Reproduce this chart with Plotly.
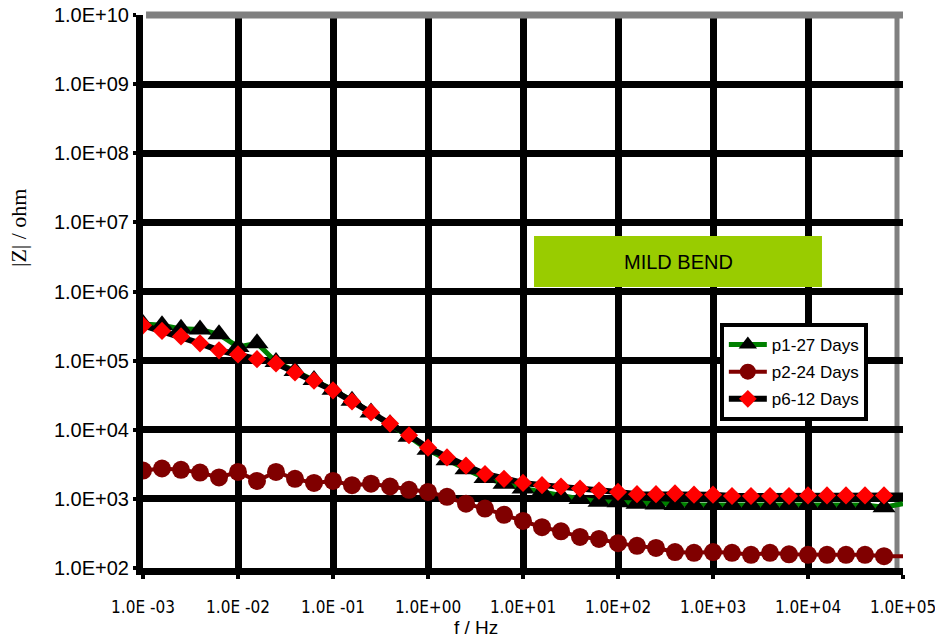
import plotly.graph_objects as go

# Frequency sweep (Hz), 5 points per decade from 1 mHz up to 100 kHz
freq_hz = [
    0.001, 0.001585, 0.002512, 0.003981, 0.00631,
    0.01, 0.01585, 0.02512, 0.03981, 0.0631,
    0.1, 0.1585, 0.2512, 0.3981, 0.631,
    1.0, 1.585, 2.512, 3.981, 6.31,
    10.0, 15.85, 25.12, 39.81, 63.1,
    100.0, 158.5, 251.2, 398.1, 631.0,
    1000.0, 1585.0, 2512.0, 3981.0, 6310.0,
    10000.0, 15850.0, 25120.0, 39810.0, 63100.0,
    100000.0,
]

# Impedance modulus |Z| (ohm) for each panel
z_p1 = [
    339000, 324000, 288000, 282000, 240000,
    158000, 178000, 95500, 70800, 52500,
    38000, 26300, 17800, 12000, 7940,
    5130, 3630, 2690, 2000, 1660,
    1410, 1260, 1100, 1000, 912,
    891, 851, 832, 813, 813,
    813, 813, 813, 813, 813,
    813, 813, 813, 813, 759,
    851,
]
z_p2 = [
    2570, 2750, 2630, 2400, 2040,
    2450, 1820, 2450, 1950, 1700,
    1820, 1580, 1660, 1510, 1350,
    1260, 1070, 851, 724, 589,
    479, 389, 339, 282, 263,
    229, 209, 195, 170, 166,
    170, 166, 155, 166, 158,
    155, 155, 155, 155, 148,
    148,
]
z_p6 = [
    324000, 269000, 224000, 178000, 141000,
    123000, 105000, 91200, 67600, 51300,
    37200, 25700, 17800, 12300, 8320,
    5500, 3980, 3020, 2290, 1950,
    1700, 1580, 1510, 1410, 1320,
    1260, 1170, 1170, 1200, 1150,
    1150, 1100, 1100, 1100, 1100,
    1120, 1120, 1120, 1120, 1120,
    1120,
]

series_names = ["p1-27 Days", "p2-24 Days", "p6-12 Days"]

x_tick_vals = [1e-3, 1e-2, 1e-1, 1e0, 1e1, 1e2, 1e3, 1e4, 1e5]
x_tick_text = ["1.0E -03", "1.0E -02", "1.0E -01", "1.0E+00", "1.0E+01",
               "1.0E+02", "1.0E+03", "1.0E+04", "1.0E+05"]
y_tick_vals = [1e2, 1e3, 1e4, 1e5, 1e6, 1e7, 1e8, 1e9, 1e10]
y_tick_text = ["1.0E+02", "1.0E+03", "1.0E+04", "1.0E+05", "1.0E+06",
               "1.0E+07", "1.0E+08", "1.0E+09", "1.0E+10"]

SANS = "Arial, Liberation Sans, sans-serif"
NARROW = "Liberation Sans Narrow, Arial Narrow, DejaVu Sans Condensed, sans-serif"
SERIF = "Times New Roman, Liberation Serif, serif"


def marker_sizes(size, count):
    # the last sample carries the line to the edge without a marker
    return [size] * (count - 1) + [0]


n = len(freq_hz)

fig = go.Figure()
fig.add_trace(go.Scatter(
    x=freq_hz, y=z_p1, name=series_names[0], mode="lines+markers",
    legendgroup="a",
    line=dict(color="#008000", width=5),
    marker=dict(symbol="triangle-up", color="black", size=marker_sizes(20, n),
                opacity=1, line=dict(width=0)),
))
fig.add_trace(go.Scatter(
    x=freq_hz, y=z_p2, name=series_names[1], mode="lines+markers",
    legendgroup="b",
    line=dict(color="#800000", width=4),
    marker=dict(symbol="circle", color="#800000", size=marker_sizes(18, n),
                opacity=1, line=dict(width=0)),
))
fig.add_trace(go.Scatter(
    x=freq_hz, y=z_p6, name=series_names[2], mode="lines+markers",
    legendgroup="c",
    line=dict(color="black", width=6),
    marker=dict(symbol="diamond", color="#FF0000", size=marker_sizes(14, n),
                opacity=1, line=dict(width=0)),
))

axis_common = dict(
    type="log",
    showgrid=True, gridcolor="black", gridwidth=7,
    showline=True, linecolor="black", linewidth=7,
    ticks="outside", tickcolor="black", tickwidth=4,
    zeroline=False, automargin=False,
)

fig.update_layout(
    width=935, height=639,
    margin=dict(l=143, r=32, t=15, b=71),
    paper_bgcolor="white", plot_bgcolor="white",
    showlegend=True,
    legend=dict(
        x=0.759, y=0.443, xanchor="left", yanchor="top",
        bgcolor="white", bordercolor="black", borderwidth=4,
        font=dict(family=SANS, size=17, color="black"),
        tracegroupgap=2, itemwidth=38,
    ),
    xaxis=dict(
        **axis_common,
        range=[-3, 5],
        tickvals=x_tick_vals, ticktext=x_tick_text, ticklen=4,
        tickfont=dict(family=NARROW, size=17, color="black"),
        ticklabelstandoff=14, ticklabeloverflow="allow",
    ),
    yaxis=dict(
        **axis_common,
        range=[2, 10],
        tickvals=y_tick_vals, ticktext=y_tick_text, ticklen=3,
        tickfont=dict(family=SANS, size=20, color="black"),
        ticklabelstandoff=0,
    ),
    shapes=[
        # grey frame along the top and right of the plotting area
        dict(type="line", xref="paper", yref="paper", x0=0.004, x1=1, y0=1, y1=1,
             line=dict(color="#808080", width=7), layer="above"),
        dict(type="line", xref="paper", yref="paper",
             x0=1 - 6 / 760, x1=1 - 6 / 760, y0=0, y1=1,
             line=dict(color="#808080", width=5), layer="below"),
        # label box
        dict(type="rect", xref="paper", yref="paper",
             x0=0.5145, x1=0.8934, y0=0.508, y1=0.6004,
             fillcolor="#99CC00", line=dict(width=0), layer="above"),
    ],
    annotations=[
        dict(text="MILD BEND", xref="paper", yref="paper",
             x=0.7046, y=0.554, showarrow=False,
             xanchor="center", yanchor="middle",
             font=dict(family=SANS, size=20, color="black")),
        dict(text="f / Hz", xref="paper", yref="paper",
             x=(476 - 143) / 760, y=(568 - 627) / 553, showarrow=False,
             xanchor="center", yanchor="middle",
             font=dict(family=SANS, size=19, color="black")),
        dict(text="|Z| / ohm", xref="paper", yref="paper",
             x=(18 - 143) / 760, y=(568 - 228) / 553, showarrow=False,
             textangle=-90, xanchor="center", yanchor="middle",
             font=dict(family=SERIF, size=22, color="black")),
    ],
)

fig.write_html("out.html")
